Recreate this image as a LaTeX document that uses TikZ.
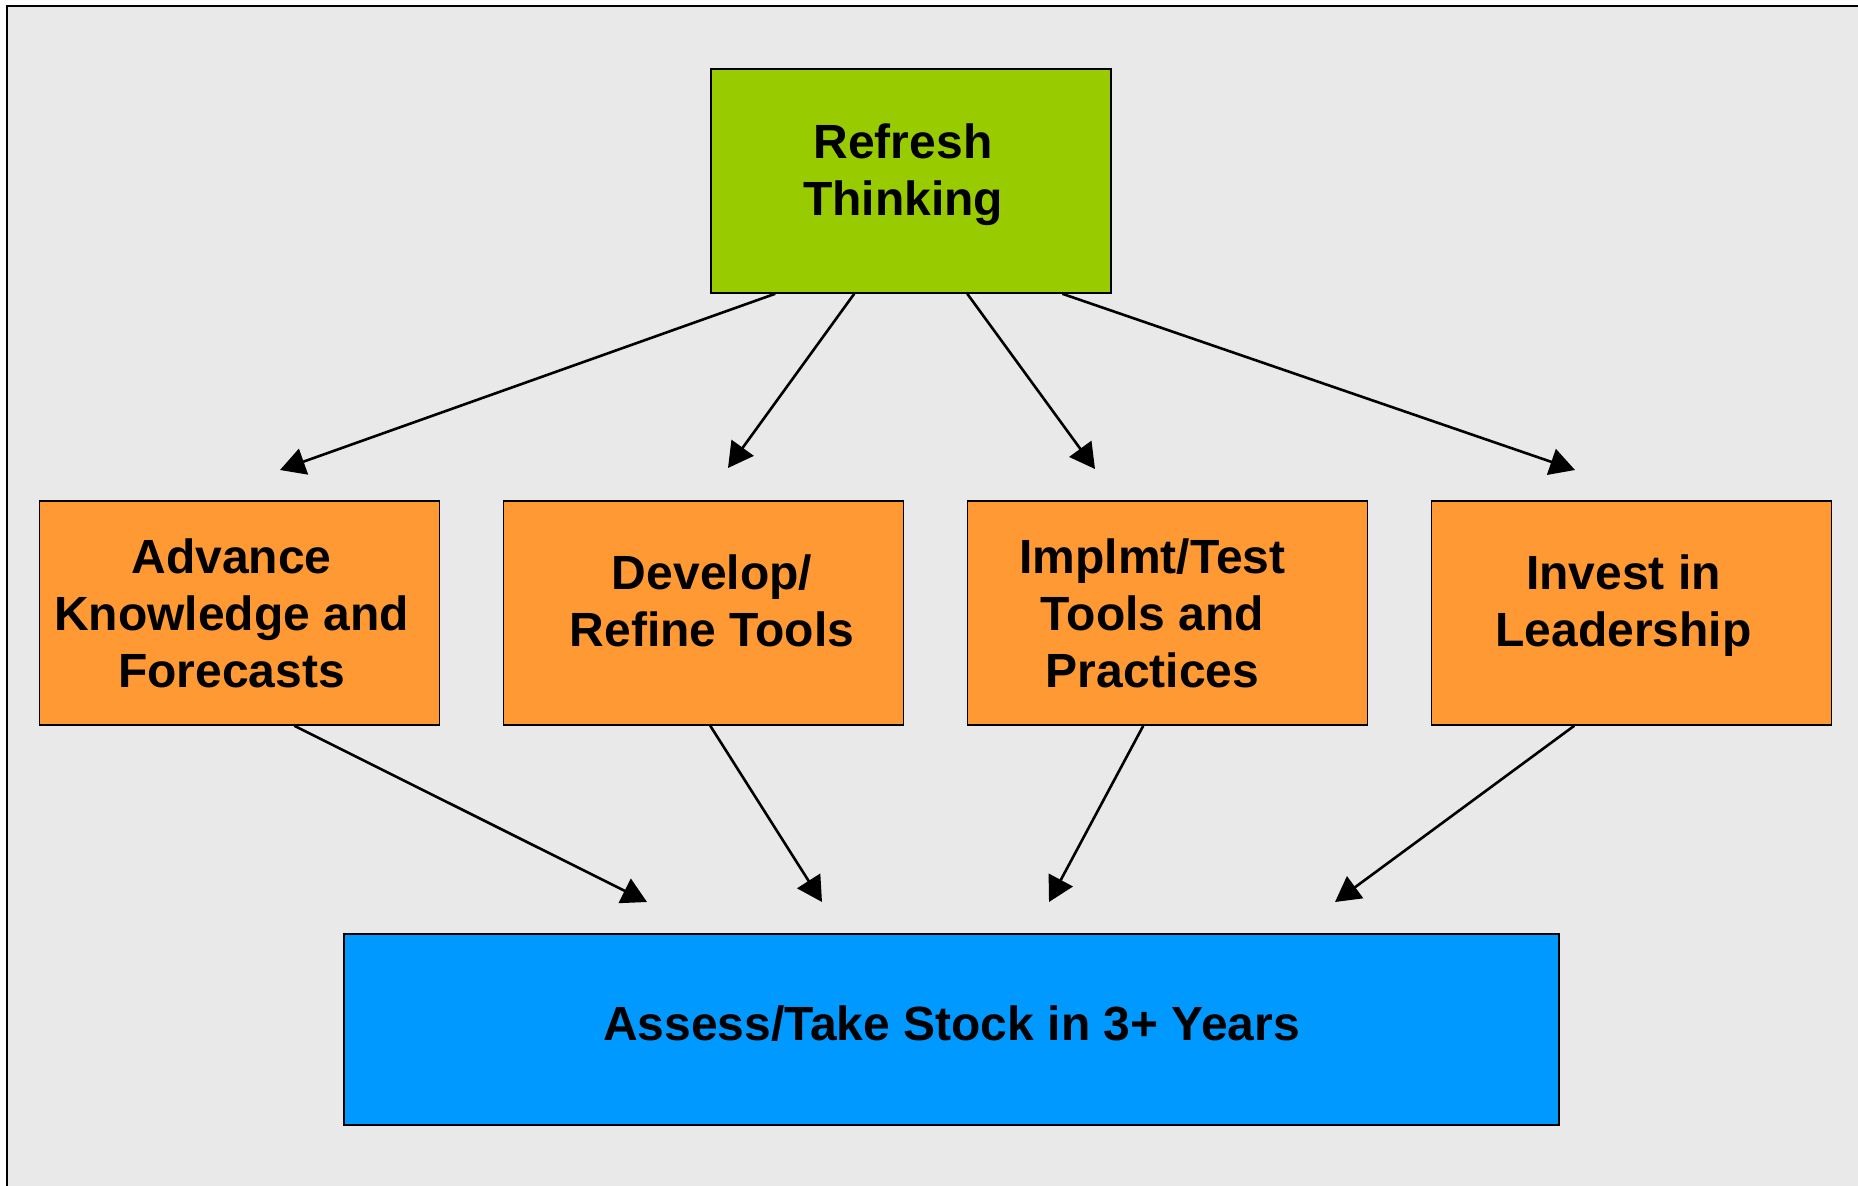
\documentclass[tikz,border=0pt]{standalone}
\usepackage{fontspec}
\setmainfont{Liberation Sans}
\usetikzlibrary{arrows.meta}
\definecolor{panelgray}{RGB}{233,233,233}
\definecolor{limegreen}{RGB}{153,204,0}
\definecolor{taskorange}{RGB}{255,153,51}
\definecolor{skyblue}{RGB}{0,153,255}
\begin{document}
\begin{tikzpicture}[x=1pt,y=-1pt,
  box/.style={draw=black,line width=1.5pt,minimum width=400pt,minimum height=224pt,
    inner sep=0pt,align=center,font=\fontsize{48}{57}\selectfont\bfseries},
  flow/.style={line width=2.6pt,-{Triangle[length=25pt,width=27pt]}}]
\useasboundingbox (0,0) rectangle (1858,1186);
% panel background with its frame running off the right and bottom
\draw[fill=panelgray,line width=2pt] (7,5.5) rectangle (1875,1200);

\node[box,fill=limegreen] (top) at (911,181)
  {\hspace*{-16pt}Refresh\\\hspace*{-16pt}Thinking\\[-35pt]};
\node[box,fill=taskorange] (adv) at (239.5,613)
  {\hspace*{-16pt}Advance\\\hspace*{-16pt}Knowledge and\\\hspace*{-16pt}Forecasts};
\node[box,fill=taskorange] (dev) at (703.5,613)
  {\hspace*{17pt}Develop/\\\hspace*{17pt}Refine Tools\\[-33pt]};
\node[box,fill=taskorange] (imp) at (1167.5,613)
  {\hspace*{-30pt}Implmt/Test\\\hspace*{-30pt}Tools and\\\hspace*{-30pt}Practices};
\node[box,fill=taskorange] (inv) at (1631.5,613)
  {\hspace*{-16pt}Invest in\\\hspace*{-16pt}Leadership\\[-33pt]};
\node[box,fill=skyblue,minimum width=1215pt,minimum height=191pt] (stock) at (951.5,1029.5)
  {Assess/Take Stock in 3+ Years\\[-45pt]};

% arrow tips stop short of the boxes they point to
\coordinate (t1) at (280,470);
\coordinate (t2) at (728,468);
\coordinate (t3) at (1095,469);
\coordinate (t4) at (1575,470);
\coordinate (b1) at (647,902);
\coordinate (b2) at (822,902);
\coordinate (b3) at (1049,902);
\coordinate (b4) at (1335,902);

\draw[flow] ([xshift=65pt]top.south west) -- (t1);
\draw[flow] ([xshift=144pt]top.south west) -- (t2);
\draw[flow] ([xshift=257pt]top.south west) -- (t3);
\draw[flow] ([xshift=352pt]top.south west) -- (t4);

\draw[flow] ([xshift=255.5pt]adv.south west) -- (b1);
\draw[flow] ([xshift=207.5pt]dev.south west) -- (b2);
\draw[flow] ([xshift=176.5pt]imp.south west) -- (b3);
\draw[flow] ([xshift=143.5pt]inv.south west) -- (b4);
\end{tikzpicture}
\end{document}
